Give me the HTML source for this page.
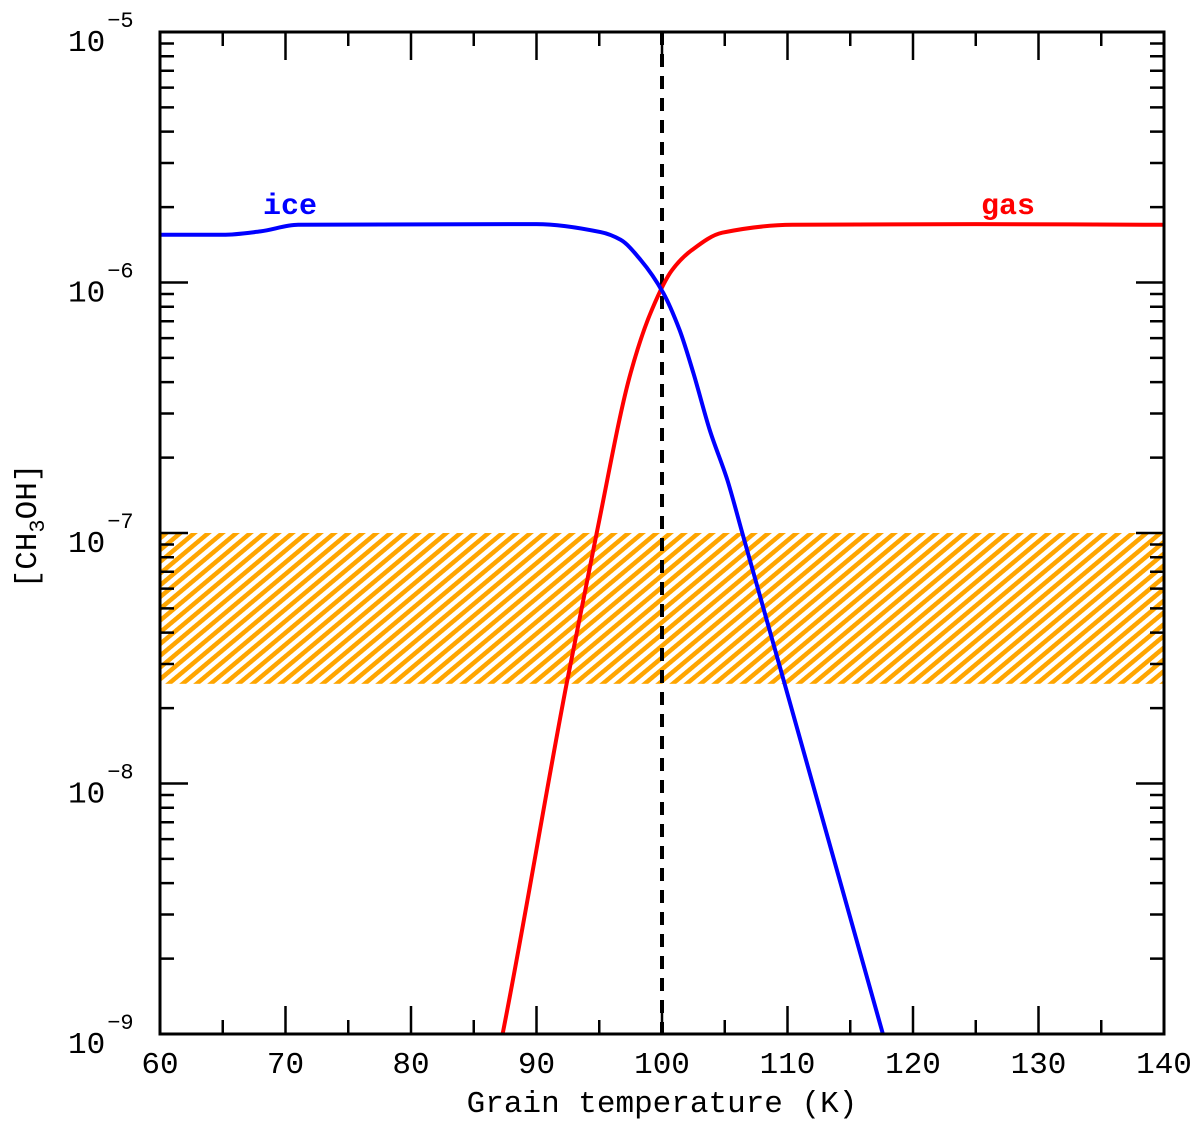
<!DOCTYPE html>
<html><head><meta charset="utf-8"><style>
html,body{margin:0;padding:0;background:#fff;}
svg{display:block;font-family:"Liberation Mono","DejaVu Sans Mono",monospace;}
</style></head><body>
<svg id="chart" width="1200" height="1124" viewBox="0 0 1200 1124">
<defs>
<pattern id="hatch" width="9" height="9" patternUnits="userSpaceOnUse" patternTransform="rotate(50)">
<rect x="0" y="0" width="4.5" height="9" fill="#FFA500"/>
</pattern>
<clipPath id="plotclip"><rect x="160" y="32" width="1004" height="1002"/></clipPath>
</defs>
<g id="band"></g>
<g id="series" clip-path="url(#plotclip)"></g>
<g id="axes"></g>
<text x="290" y="214" font-size="30" font-weight="bold" fill="#0000ff" text-anchor="middle">ice</text>
<text x="1008" y="214" font-size="30" font-weight="bold" fill="#ff0000" text-anchor="middle">gas</text>
<text x="662" y="1112" font-size="31" text-anchor="middle">Grain temperature (K)</text>
<text transform="translate(36,526) rotate(-90)" font-size="31" text-anchor="middle">[CH<tspan font-size="22" dy="8">3</tspan><tspan dy="-8">OH]</tspan></text>
</svg>
<script>
const iceT = [60, 65, 68, 71, 90, 95.1, 96.7, 98.3, 100.1, 101.4, 102.5, 103.8, 105.2, 106.4, 117.6, 120];
const iceV = [1.55e-6, 1.55e-6, 1.6e-6, 1.7e-6, 1.71e-6, 1.59e-6, 1.48e-6, 1.23e-6, 9.08e-7, 6.46e-7, 4.35e-7, 2.58e-7, 1.63e-7, 1e-7, 1e-9, 3.7e-10];
const gasT = [85, 87.3, 92.4, 94.8, 97.5, 99.2, 100.8, 102.4, 104.8, 110.4, 125, 140];
const gasV = [2.8e-10, 1e-9, 2.5e-8, 1e-7, 4.35e-7, 7.8e-7, 1.12e-6, 1.35e-6, 1.58e-6, 1.7e-6, 1.71e-6, 1.7e-6];
const xTicks = [60, 70, 80, 90, 100, 110, 120, 130, 140];
const yDecades = [-9, -8, -7, -6, -5];
const bandRange = [2.5e-8, 1e-7];
const thresholdT = [100];

const X0 = 160, X1 = 1164, Y0 = 1034, Y1 = 32;
const xs = t => X0 + (t - 60) / 80 * (X1 - X0);
const ys = v => Y0 - (Math.log10(v) + 9) / 4 * (Y0 - Y1);
const NS = "http://www.w3.org/2000/svg";
function mk(tag, attrs, parent) {
  const e = document.createElementNS(NS, tag);
  for (const k in attrs) e.setAttribute(k, attrs[k]);
  parent.appendChild(e);
  return e;
}
function smoothPath(T, V) {
  const x = T.map(xs), y = V.map(ys), n = x.length;
  const d = [], m = new Array(n);
  for (let i = 0; i < n - 1; i++) d.push((y[i + 1] - y[i]) / (x[i + 1] - x[i]));
  m[0] = d[0]; m[n - 1] = d[n - 2];
  for (let i = 1; i < n - 1; i++) {
    if (d[i - 1] * d[i] <= 0) m[i] = 0;
    else {
      const h0 = x[i] - x[i - 1], h1 = x[i + 1] - x[i];
      const w1 = 2 * h1 + h0, w2 = h1 + 2 * h0;
      m[i] = (w1 + w2) / (w1 / d[i - 1] + w2 / d[i]);
    }
  }
  let p = "M" + x[0].toFixed(1) + "," + y[0].toFixed(1);
  for (let i = 0; i < n - 1; i++) {
    const h = x[i + 1] - x[i];
    p += " C" + (x[i] + h / 3).toFixed(1) + "," + (y[i] + m[i] * h / 3).toFixed(1) + " " +
      (x[i + 1] - h / 3).toFixed(1) + "," + (y[i + 1] - m[i + 1] * h / 3).toFixed(1) + " " +
      x[i + 1].toFixed(1) + "," + y[i + 1].toFixed(1);
  }
  return p;
}
const band = document.getElementById("band");
const br = mk("rect", {x: X0, y: ys(bandRange[1]), width: X1 - X0, height: ys(bandRange[0]) - ys(bandRange[1]), fill: "url(#hatch)"}, band);



const series = document.getElementById("series");
const thr = mk("line", {x1: xs(thresholdT[0]), x2: xs(thresholdT[0]), y1: Y1, y2: Y0, stroke: "#000", "stroke-width": 4, "stroke-dasharray": "13,9"}, series);


const gas = mk("path", {d: smoothPath(gasT, gasV), fill: "none", stroke: "#ff0000", "stroke-width": 4}, series);


const ice = mk("path", {d: smoothPath(iceT, iceV), fill: "none", stroke: "#0000ff", "stroke-width": 4}, series);



const axes = document.getElementById("axes");
const frame = mk("rect", {x: X0, y: Y1, width: X1 - X0, height: Y0 - Y1, fill: "none", stroke: "#000", "stroke-width": 3}, axes);


for (let t = 60; t <= 140; t += 5) {
  const L = (t % 10 === 0) ? 28 : 14;
  const x = xs(t);
  const tk = mk("path", {d: `M${x},${Y0}v${-L}M${x},${Y1}v${L}`, stroke: "#000", "stroke-width": 2.5}, axes);
  
  
}
xTicks.forEach(t => {
  const tx = mk("text", {x: xs(t), y: 1073, "font-size": 31, "text-anchor": "middle"}, axes);
  tx.textContent = String(t);
  
  
});
for (let dcd = -9; dcd < -5; dcd++) {
  for (let k = 1; k <= 9; k++) {
    const y = ys(k * Math.pow(10, dcd));
    const L = k === 1 ? 28 : 14;
    const tk = mk("path", {d: `M${X0},${y}h${L}M${X1},${y}h${-L}`, stroke: "#000", "stroke-width": 2.5}, axes);
    
    
  }
}
yDecades.forEach(dcd => {
  const y = ys(Math.pow(10, dcd));
  const tx = mk("text", {x: 68, y: y + 19, "font-size": 31}, axes);
  tx.textContent = "10";
  const sp = mk("tspan", {"font-size": 22, dy: -24, dx: 2}, tx);
  sp.textContent = "\u2212" + Math.abs(dcd);
  
  
});
</script>
</body></html>
